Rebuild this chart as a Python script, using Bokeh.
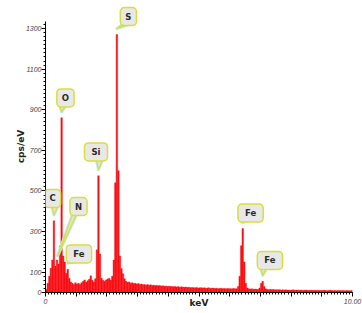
from math import pi
from bokeh.plotting import figure
from bokeh.models import FixedTicker, Label
from bokeh.embed import file_html
from bokeh.resources import INLINE

# ---------------- data (EDS spectrum, 0.05 keV channels) ----------------
channel_width = 0.05
counts_0keV = [15, 45, 80, 120, 160, 353, 130, 160, 140, 230,
               860, 180, 150, 95, 115, 70, 52, 45, 40, 48]
counts_1keV = [42, 46, 40, 48, 55, 62, 50, 58, 65, 82,
               60, 52, 68, 210, 575, 190, 70, 60, 55, 62]
counts_2keV = [66, 70, 62, 80, 160, 540, 1270, 600, 180, 118,
               92, 68, 55, 50, 52, 46, 48, 44, 46, 42]
counts_3keV = [44, 40, 42, 38, 40, 37, 39, 36, 38, 35,
               36, 34, 35, 33, 34, 32, 33, 31, 32, 30]
counts_4keV = [31, 29, 30, 28, 30, 27, 29, 26, 28, 27,
               26, 27, 25, 26, 24, 25, 24, 23, 25, 22]
counts_5keV = [23, 24, 22, 23, 21, 22, 23, 20, 22, 21,
               20, 21, 19, 20, 21, 19, 20, 18, 20, 19]
counts_6keV = [19, 18, 20, 18, 19, 30, 80, 230, 315, 150,
               45, 22, 18, 17, 18, 16, 17, 16, 15, 22]
counts_7keV = [45, 55, 30, 18, 15, 14, 16, 14, 15, 13,
               14, 13, 14, 12, 13, 12, 13, 12, 12, 11]
counts_8keV = [12, 13, 11, 12, 12, 11, 12, 10, 11, 12,
               11, 10, 11, 11, 10, 11, 10, 11, 10, 10]
counts_9keV = [10, 11, 10, 9, 10, 11, 10, 9, 10, 9,
               10, 10, 9, 10, 9, 9, 10, 9, 9, 10]

counts = (counts_0keV + counts_1keV + counts_2keV + counts_3keV + counts_4keV +
          counts_5keV + counts_6keV + counts_7keV + counts_8keV + counts_9keV)
energy = [i * channel_width + channel_width / 2 for i in range(len(counts))]

peak_labels = ["C", "N", "O", "Fe", "Si", "S", "Fe", "Fe"]
peak_energy = [0.275, 0.39, 0.525, 0.72, 1.725, 2.325, 6.425, 7.075]
peak_height = [353, 150, 860, 115, 575, 1270, 315, 55]

y_ticks = [0, 100, 300, 500, 700, 900, 1100, 1300]
x_tick_labels = {0: "0", 10: "10.00"}

# ---------------- layout ----------------
W, H = 362, 313
BL, BR, BT, BB = 45, 10, 0, 21
X0, X1 = 0, 10
Y0, Y1 = 0, 1438
px_x = (W - BL - BR) / (X1 - X0)
px_y = (H - BT - BB) / (Y1 - Y0)

p = figure(width=W, height=H, output_backend="svg", toolbar_location=None,
           x_range=(X0, X1), y_range=(Y0, Y1),
           min_border_left=BL, min_border_right=BR,
           min_border_top=BT, min_border_bottom=BB)
p.outline_line_color = None
p.xgrid.visible = False
p.ygrid.visible = False
p.background_fill_color = "white"
p.border_fill_color = "white"

RED = "#fa0f14"
p.vbar(x=energy, top=counts, bottom=0, width=channel_width,
       fill_color=RED, line_color=RED, line_width=0.4)

# axes
ya = p.yaxis[0]
ya.ticker = FixedTicker(ticks=y_ticks, minor_ticks=list(range(0, 1340, 20)))
ya.bounds = (0, 1335)
ya.major_tick_out = 4
ya.major_tick_in = 0
ya.minor_tick_out = 2
ya.minor_tick_in = 0
ya.major_label_standoff = 0
ya.major_label_text_font = "Liberation Sans"
ya.major_label_text_font_style = "italic"
ya.major_label_text_font_size = "7px"
ya.major_label_text_color = "#444444"
ya.axis_line_color = "black"
ya.axis_label = "cps/eV"
ya.axis_label_standoff = -3
ya.axis_label_text_font = "DejaVu Sans"
ya.axis_label_text_font_style = "bold"
ya.axis_label_text_font_size = "9px"
ya.axis_label_text_color = "#222222"

xa = p.xaxis[0]
xa.ticker = FixedTicker(ticks=list(range(0, 11)),
                        minor_ticks=[i / 10 for i in range(0, 101)])
xa.bounds = (0, 10)
xa.major_tick_out = 4
xa.major_tick_in = 0
xa.minor_tick_out = 2
xa.minor_tick_in = 0
xa.major_label_overrides = {i: x_tick_labels.get(i, "") for i in range(0, 11)}
xa.major_label_standoff = 2
xa.major_label_text_font = "Liberation Sans"
xa.major_label_text_font_style = "italic"
xa.major_label_text_font_size = "7px"
xa.major_label_text_color = "#444444"
xa.axis_line_color = "black"
xa.axis_label = "keV"
xa.axis_label_standoff = -9
xa.axis_label_text_font = "DejaVu Sans"
xa.axis_label_text_font_style = "bold"
xa.axis_label_text_font_size = "9px"
xa.axis_label_text_color = "#222222"

# ---------------- callout balloons ----------------
box_centers = [(0.228, 463), (1.075, 423), (0.65, 958), (1.09, 190),
               (1.645, 692), (2.70, 1359), (6.68, 391), (7.31, 158)]
half_h = 9
tail_xs, tail_ys = [], []
for lab, pe, ph, (cx, cy) in zip(peak_labels, peak_energy, peak_height, box_centers):
    hw = 8 if len(lab) == 1 else 12
    tip_x, tip_y = pe, ph + 6 / px_y
    bottom = cy - (half_h - 1) / px_y
    tip_px = (tip_x - cx) * px_x
    base_w = 4 if lab == "N" else 6
    b0 = min(max(tip_px - 2, -hw + 2), hw - 2 - base_w)
    tail_xs.append([cx + b0 / px_x, tip_x, cx + (b0 + base_w) / px_x])
    tail_ys.append([bottom, tip_y, bottom])

p.patches(xs=tail_xs, ys=tail_ys, fill_color=None, line_color="#b8eef3",
          line_width=3, line_join="round")
p.patches(xs=tail_xs, ys=tail_ys, fill_color="#e2e2e2", line_color="#d9de3a",
          line_width=1.2, line_join="round")

for lab, (cx, cy) in zip(peak_labels, box_centers):
    pad = (5, 4) if len(lab) == 1 else (7, 4)
    common = dict(x=cx, y=cy, text=lab, anchor="center", padding=pad,
                  border_radius=4, text_font="DejaVu Sans",
                  text_font_style="bold", text_font_size="8.5px")
    p.add_layout(Label(text_alpha=0, background_fill_color=None,
                       border_line_color="#b8eef3", border_line_width=4,
                       **common))
    p.add_layout(Label(text_color="#2a2a2a", background_fill_color="#e8e8e8",
                       border_line_color="#d9de3a", border_line_width=1.5,
                       **common))

open("out.html", "w").write(file_html(p, INLINE))
